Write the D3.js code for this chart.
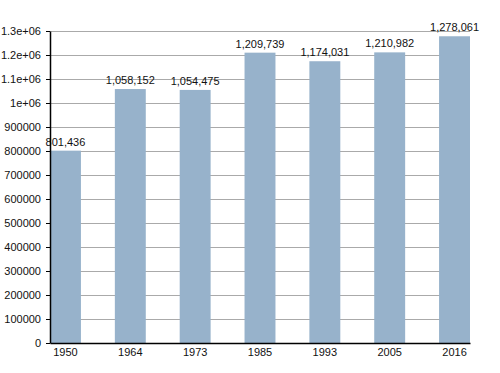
<!DOCTYPE html>
<html>
<head>
<meta charset="utf-8">
<script src="https://cdn.jsdelivr.net/npm/d3@7"></script>
<style>
  body { margin: 0; background: #fff; }
  text { font-family: "Liberation Sans", Arial, sans-serif; }
</style>
</head>
<body>
<svg id="chart" width="500" height="373"></svg>
<script>
// population by census year
const years = ['1950', '1964', '1973', '1985', '1993', '2005', '2016']
const population = [801436, 1058152, 1054475, 1209739, 1174031, 1210982, 1278061]
const barLabels = ['801,436', '1,058,152', '1,054,475', '1,209,739', '1,174,031', '1,210,982', '1,278,061']
const yTicks = [0, 100000, 200000, 300000, 400000, 500000, 600000, 700000, 800000, 900000,
  1000000, 1100000, 1200000, 1300000]
const yTickLabels = ['0', '100000', '200000', '300000', '400000', '500000', '600000', '700000',
  '800000', '900000', '1e+06', '1.1e+06', '1.2e+06', '1.3e+06']

const margin = { top: 31, right: 30, bottom: 30, left: 50 }
const width = 500 - margin.left - margin.right
const height = 373 - margin.top - margin.bottom

const svg = d3.select('#chart')
const g = svg.append('g')
  .attr('transform', 'translate(' + margin.left + ',' + margin.top + ')')

const xScale = d3.scaleBand()
  .domain(years)
  .range([0, width])
  .paddingInner(0.523)
  .paddingOuter(0)

const yScale = d3.scaleLinear()
  .domain([0, 1300000])
  .range([height, 0])

// gridlines
g.append('g')
  .selectAll('line')
  .data(yTicks.slice(1))
  .join('line')
  .attr('x1', 0)
  .attr('x2', width)
  .attr('y1', d => Math.round(yScale(d)) + 0.5)
  .attr('y2', d => Math.round(yScale(d)) + 0.5)
  .attr('stroke', '#aaaaaa')
  .attr('stroke-width', 1)

// bars
g.append('g')
  .selectAll('rect')
  .data(population)
  .join('rect')
  .attr('x', (d, i) => xScale(years[i]))
  .attr('y', d => yScale(d))
  .attr('width', xScale.bandwidth())
  .attr('height', d => height - yScale(d))
  .attr('fill', '#97b2cb')

// value labels
g.append('g')
  .selectAll('text')
  .data(population)
  .join('text')
  .attr('x', (d, i) => xScale(years[i]) + xScale.bandwidth() / 2)
  .attr('y', d => yScale(d) - 5)
  .attr('text-anchor', 'middle')
  .attr('font-size', '11px')
  .attr('fill', '#111')
  .text((d, i) => barLabels[i])

// y axis
const yAxis = g.append('g')
  .call(d3.axisLeft(yScale)
    .tickValues(yTicks)
    .tickFormat((d, i) => yTickLabels[i])
    .tickSize(4)
    .tickSizeOuter(0))
yAxis.select('.domain').attr('stroke', '#000').attr('stroke-width', 1.5)
yAxis.selectAll('.tick line').attr('stroke', '#000')
yAxis.selectAll('.tick text')
  .attr('font-size', '11px')
  .attr('font-family', '"Liberation Sans", Arial, sans-serif')
  .attr('fill', '#111')
  .attr('x', -9)

// x axis
const xAxis = g.append('g')
  .attr('transform', 'translate(0,' + height + ')')
  .call(d3.axisBottom(xScale).tickSize(0).tickSizeOuter(0))
xAxis.select('.domain').attr('stroke', '#000').attr('stroke-width', 1.5)
xAxis.selectAll('.tick text')
  .attr('font-size', '11px')
  .attr('font-family', '"Liberation Sans", Arial, sans-serif')
  .attr('fill', '#111')
  .attr('dy', '0.9em')
</script>
</body>
</html>
